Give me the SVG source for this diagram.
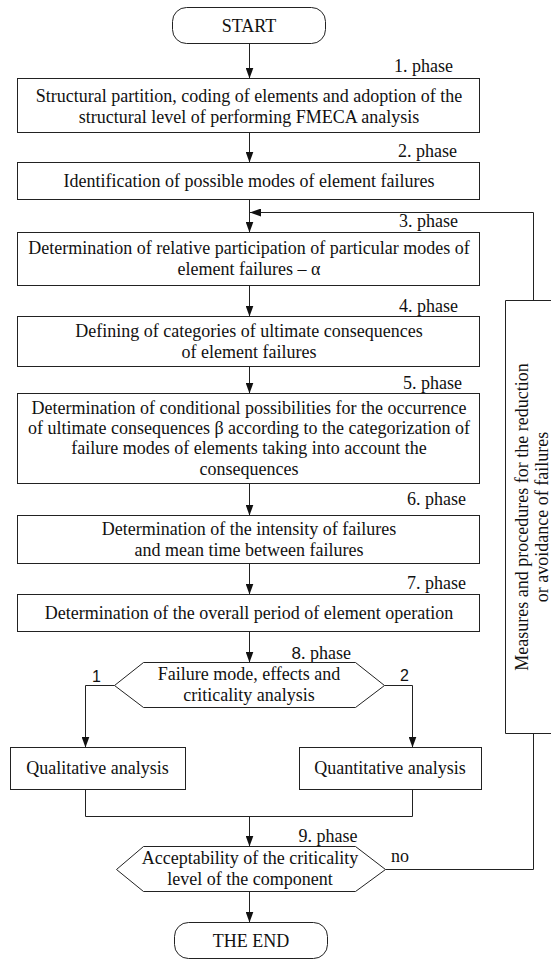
<svg xmlns="http://www.w3.org/2000/svg" width="551" height="960" viewBox="0 0 551 960">
<defs>
<style>
.bx{fill:#fff;stroke:#222;stroke-width:1}
.ln{fill:none;stroke:#222;stroke-width:1}
.t{font-family:"Liberation Serif","Times New Roman",serif;font-size:18px;fill:#111;text-anchor:middle}
.ph{font-family:"Liberation Serif","Times New Roman",serif;font-size:18px;fill:#111;text-anchor:end}
.sn{font-family:"Liberation Sans",Arial,sans-serif;font-size:16px;fill:#111}
</style>
<marker id="ah" markerUnits="userSpaceOnUse" markerWidth="12" markerHeight="8" refX="11" refY="4" orient="auto" viewBox="0 0 12 8">
<path d="M0,0 L11,4 L0,8 z" fill="#111"/>
</marker>
</defs>
<rect width="551" height="960" fill="#fff"/>

<g id="connectors">
<path class="ln" d="M249.5,43.5 V78.5" marker-end="url(#ah)"/>
<path class="ln" d="M249.5,132.5 V162.5" marker-end="url(#ah)"/>
<path class="ln" d="M249.5,199.5 V232.5" marker-end="url(#ah)"/>
<path class="ln" d="M249.5,285.5 V316.5" marker-end="url(#ah)"/>
<path class="ln" d="M249.5,366.5 V393.5" marker-end="url(#ah)"/>
<path class="ln" d="M249.5,483.5 V515.5" marker-end="url(#ah)"/>
<path class="ln" d="M249.5,563.5 V594.5" marker-end="url(#ah)"/>
<path class="ln" d="M249.5,631.5 V662.5" marker-end="url(#ah)"/>
<path class="ln" d="M114.5,685.5 H85.5 V747.5" marker-end="url(#ah)"/>
<path class="ln" d="M384.5,685.5 H412.5 V747.5" marker-end="url(#ah)"/>
<path class="ln" d="M85.5,789.5 V816.5 H412.5 V789.5"/>
<path class="ln" d="M249.5,816.5 V846.5" marker-end="url(#ah)"/>
<path class="ln" d="M249.5,891.5 V922.5" marker-end="url(#ah)"/>
<path class="ln" d="M385.5,869.5 H533.5 V733.5"/>
<path class="ln" d="M533.5,300.5 V212.5 H250" marker-end="url(#ah)"/>
</g>

<g id="start">
<rect class="bx" x="172.5" y="7.5" width="153" height="36" rx="14"/>
<text class="t" x="249" y="31.5">START</text>
</g>

<g id="phase1">
<text class="ph" x="453" y="72">1. phase</text>
<rect class="bx" x="17.5" y="78.5" width="462" height="54"/>
<text class="t" x="249" y="101.5">Structural partition, coding of elements and adoption of the</text>
<text class="t" x="249" y="122.5">structural level of performing FMECA analysis</text>
</g>

<g id="phase2">
<text class="ph" x="457" y="157">2. phase</text>
<rect class="bx" x="17.5" y="162.5" width="462" height="37"/>
<text class="t" x="249" y="187">Identification of possible modes of element failures</text>
</g>

<g id="phase3">
<text class="ph" x="458" y="226.5">3. phase</text>
<rect class="bx" x="17.5" y="232.5" width="462" height="53"/>
<text class="t" x="249" y="254">Determination of relative participation of particular modes of</text>
<text class="t" x="249" y="275">element failures – α</text>
</g>

<g id="phase4">
<text class="ph" x="458" y="312">4. phase</text>
<rect class="bx" x="17.5" y="316.5" width="462" height="50"/>
<text class="t" x="249" y="337">Defining of categories of ultimate consequences</text>
<text class="t" x="249" y="358">of element failures</text>
</g>

<g id="phase5">
<text class="ph" x="462" y="388.5">5. phase</text>
<rect class="bx" x="17.5" y="393.5" width="462" height="90"/>
<text class="t" x="249" y="414">Determination of conditional possibilities for the occurrence</text>
<text class="t" x="249" y="434">of ultimate consequences β according to the categorization of</text>
<text class="t" x="249" y="454">failure modes of elements taking into account the</text>
<text class="t" x="249" y="474.5">consequences</text>
</g>

<g id="phase6">
<text class="ph" x="466" y="505">6. phase</text>
<rect class="bx" x="17.5" y="515.5" width="462" height="48"/>
<text class="t" x="249" y="535">Determination of the intensity of failures</text>
<text class="t" x="249" y="555.5">and mean time between failures</text>
</g>

<g id="phase7">
<text class="ph" x="466" y="588.5">7. phase</text>
<rect class="bx" x="17.5" y="594.5" width="462" height="37"/>
<text class="t" x="249" y="618.5">Determination of the overall period of element operation</text>
</g>

<g id="phase8">
<text class="ph" x="351" y="658.5"><tspan font-family="Liberation Sans, Arial, sans-serif" font-size="17">8</tspan>. phase</text>
<polygon class="bx" points="143.5,662.5 355.5,662.5 384.5,685.5 355.5,707.5 143.5,707.5 114.5,685.5"/>
<text class="t" x="249" y="680">Failure mode, effects and</text>
<text class="t" x="249" y="701">criticality analysis</text>
<text class="sn" x="92" y="681.5">1</text>
<text class="sn" x="400" y="681">2</text>
</g>

<g id="qualitative">
<rect class="bx" x="10.5" y="747.5" width="175" height="42"/>
<text class="t" x="97.5" y="774">Qualitative analysis</text>
</g>

<g id="quantitative">
<rect class="bx" x="299.5" y="747.5" width="182" height="42"/>
<text class="t" x="390" y="774">Quantitative analysis</text>
</g>

<g id="phase9">
<text class="ph" x="357.5" y="842">9. phase</text>
<polygon class="bx" points="143.5,846.5 355.5,846.5 385.5,869.5 355.5,891.5 143.5,891.5 116.5,869.5"/>
<text class="t" x="250" y="863.5">Acceptability of the criticality</text>
<text class="t" x="250" y="884.5">level of the component</text>
<text class="t" x="400" y="862">no</text>
</g>

<g id="end">
<rect class="bx" x="174.5" y="922.5" width="153" height="36" rx="14"/>
<text class="t" x="251" y="947">THE END</text>
</g>

<g id="measures">
<path class="bx" d="M551,300.5 H505.5 V733.5 H551"/>
<text class="t" transform="translate(528,517) rotate(-90)" x="0" y="0">Measures and procedures for the reduction</text>
<text class="t" transform="translate(548,517) rotate(-90)" x="0" y="0">or avoidance of failures</text>
</g>
</svg>
